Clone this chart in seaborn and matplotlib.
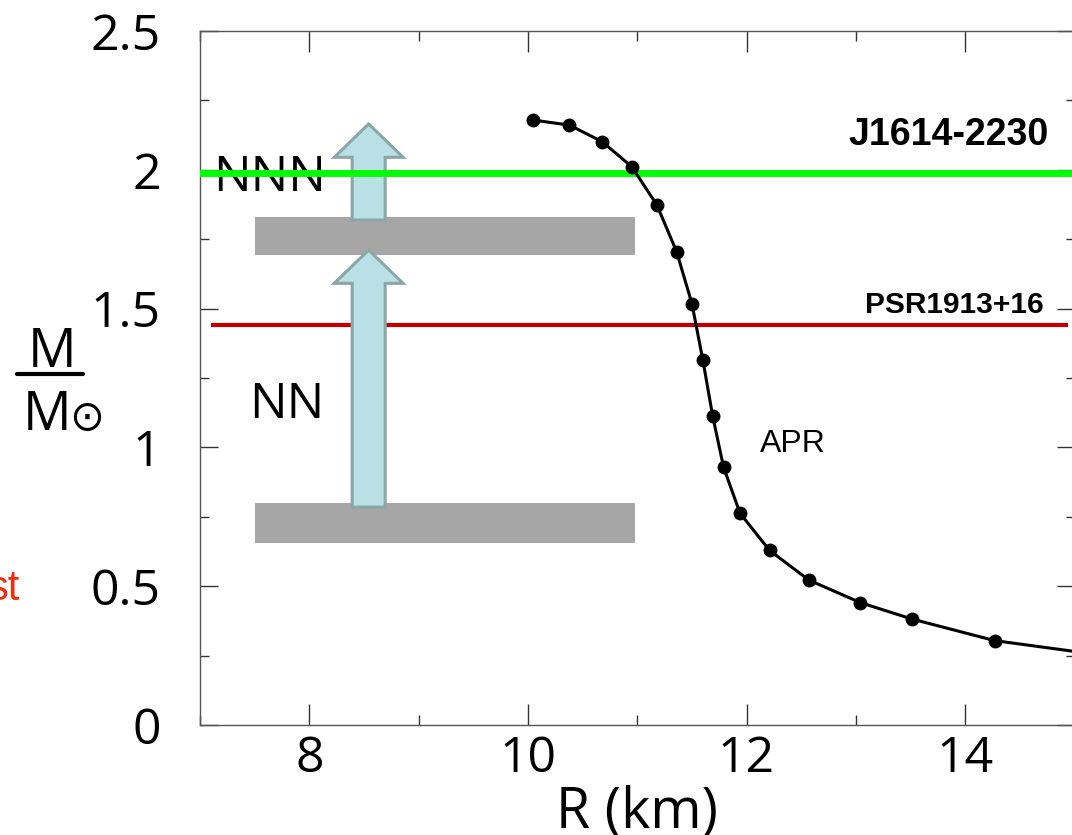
import numpy as np
import matplotlib
matplotlib.use('Agg')
import matplotlib.pyplot as plt
from matplotlib.patches import FancyArrow
from matplotlib.ticker import MultipleLocator
import seaborn as sns

# APR mass-radius curve
apr_r = [10.05, 10.38, 10.68, 10.95, 11.18, 11.36, 11.50, 11.60, 11.69,
         11.79, 11.94, 12.21, 12.57, 13.04, 13.51, 14.27]
apr_m = [2.179, 2.161, 2.101, 2.011, 1.873, 1.705, 1.518, 1.315, 1.113,
         0.928, 0.763, 0.629, 0.522, 0.441, 0.382, 0.304]
# the line runs on past the last dot to the edge
tail_r = [14.27, 15.0]
tail_m = [0.304, 0.265]

# pulsar masses
j1614_mass = 1.99
psr1913_mass = 1.44
psr1913_span = [7.1, 14.94]

# gray bands (x from, x to, y from, y to)
band_x = [7.5, 10.98]
band_low = [0.656, 0.800]
band_high = [1.693, 1.830]

# arrows: x, y start, y tip
arrow_x = 8.543
arrow_low = [0.785, 1.711]
arrow_high = [1.819, 2.165]

sns.set_theme(style='ticks')
plt.rcParams['font.family'] = ['Open Sans', 'DejaVu Sans']
plt.rcParams['text.color'] = 'black'
plt.rcParams['axes.labelcolor'] = 'black'
plt.rcParams['xtick.color'] = 'black'
plt.rcParams['ytick.color'] = 'black'

fig = plt.figure(figsize=(10.72, 8.35), dpi=100)
ax = fig.add_axes([200 / 1072, 110 / 835, 874.5 / 1072, 694 / 835])

# bands
for lo, hi in [band_low, band_high]:
    ax.fill_between(band_x, lo, hi, color='#a6a6a6', lw=0, zorder=2)

# PSR1913+16 line
ax.hlines(psr1913_mass, psr1913_span[0], psr1913_span[1], color='#c00000', lw=3, zorder=2.5)

# arrows
for y0, y1 in [arrow_low, arrow_high]:
    arr = FancyArrow(arrow_x, y0, 0, y1 - y0, width=0.302, head_width=0.63,
                     head_length=0.12, length_includes_head=True,
                     facecolor='#b9e0e4', edgecolor='#8ba6a8', lw=2.2, zorder=3)
    ax.add_patch(arr)

ax.text(7.12, 1.924, 'NNN', fontsize=36, ha='left', va='baseline', zorder=3.5)
ax.text(7.45, 1.106, 'NN', fontsize=36, ha='left', va='baseline', zorder=3.5)

# J1614-2230 line
ax.axhline(j1614_mass, color='#00ff00', lw=5, zorder=4)

# APR curve
sns.lineplot(x=tail_r, y=tail_m, ax=ax, color='black', lw=2.2, sort=False, zorder=5)
sns.lineplot(x=apr_r, y=apr_m, ax=ax, color='black', lw=2.2, sort=False, zorder=5)
sns.scatterplot(x=apr_r, y=apr_m, ax=ax, color='black', s=100, linewidth=0, zorder=6)

ax.text(12.12, 0.983, 'APR', fontsize=23, family=['Liberation Sans', 'DejaVu Sans'],
        ha='left', va='baseline')
ax.text(14.76, 2.089, 'J1614-2230', fontsize=27, fontweight='bold',
        family=['Liberation Sans', 'DejaVu Sans'], ha='right', va='baseline')
ax.text(14.72, 1.484, 'PSR1913+16', fontsize=21.5, fontweight='bold',
        family=['Liberation Sans', 'DejaVu Sans'], ha='right', va='baseline')

ax.set_xlim(7, 15)
ax.set_ylim(0, 2.5)
ax.xaxis.set_minor_locator(MultipleLocator(1))
ax.yaxis.set_minor_locator(MultipleLocator(0.25))
ax.set_xticks([8, 10, 12, 14])
ax.set_xticklabels(['8', '10', '12', '14'])
ax.set_yticks([0, 0.5, 1, 1.5, 2, 2.5])
ax.set_yticklabels(['0', '0.5', '1', '1.5', '2', '2.5'])

ax.tick_params(which='both', direction='in', top=True, right=True, color='#333333', width=1)
ax.tick_params(axis='x', which='major', length=15, labelsize=36, pad=7)
ax.tick_params(axis='x', which='minor', length=7.5)
ax.tick_params(axis='y', which='major', length=13, labelsize=36, pad=28)
ax.tick_params(axis='y', which='minor', length=6.5)
for sp in ax.spines.values():
    sp.set_color('#555555')
    sp.set_linewidth(1)

ax.set_xlabel('R (km)', fontsize=40, labelpad=0)
ax.set_ylabel('')

# M / M_sun label
fig.text(52 / 1072, 1 - 367 / 835, 'M', fontsize=39, ha='center', va='baseline')
fig.add_artist(plt.Line2D([17 / 1072, 83 / 1072], [1 - 374 / 835, 1 - 374 / 835],
                          color='black', lw=3))
fig.text(47 / 1072, 1 - 430 / 835, 'M', fontsize=39, ha='center', va='baseline')
fig.text(87 / 1072, 1 - 430 / 835, '\u2299', fontsize=30, ha='center', va='baseline')

fig.text(20 / 1072, 1 - 600 / 835, 'st', fontsize=30, color='#f52a0a',
         family=['Liberation Sans', 'DejaVu Sans'], ha='right', va='baseline')

fig.savefig('out.png', dpi=100)
